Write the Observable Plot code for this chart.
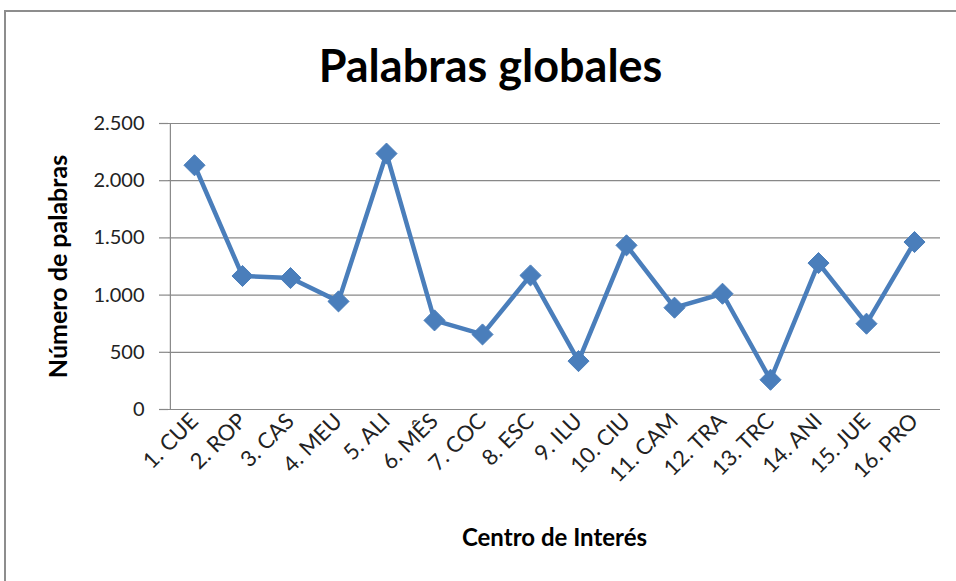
<!DOCTYPE html>
<html>
<head>
<meta charset="utf-8">
<script src="https://cdn.jsdelivr.net/npm/d3@7"></script>
<script src="https://cdn.jsdelivr.net/npm/@observablehq/plot@0.6"></script>
<style>
  html, body { margin: 0; padding: 0; background: #fff; overflow: hidden; }
  #wrap { position: relative; width: 956px; height: 581px; }
  #frame { position: absolute; left: 4px; top: 10px; width: 1000px; height: 1000px; border: 2px solid #8d8d8d; box-sizing: border-box; }
  #chart { position: absolute; left: 0; top: 0; }
</style>
</head>
<body>
<div id="wrap"><div id="frame"></div><div id="chart"></div></div>
<script>
const categories = ["1. CUE","2. ROP","3. CAS","4. MEU","5. ALI","6. MÊS","7. COC","8. ESC","9. ILU","10. CIU","11. CAM","12. TRA","13. TRC","14. ANI","15. JUE","16. PRO"];
const values = [2135, 1167, 1149, 945, 2237, 779, 656, 1172, 423, 1435, 890, 1012, 260, 1280, 750, 1464];
const yTicks = [0, 500, 1000, 1500, 2000, 2500];
const title = "Palabras globales";
const xTitle = "Centro de Interés";
const yTitle = "Número de palabras";

const data = categories.map((c, i) => ({cat: c, val: values[i]}));
const esFmt = d3.formatLocale({decimal: ",", thousands: ".", grouping: [3], currency: ["", "€"]}).format(",");
const font = "Lato, 'Open Sans', sans-serif";
const blue = "#4a7ebb";
const W = 956, ML = 168, MR = 16;
const bw = (W - ML - MR) / categories.length;

const chart = Plot.plot({
  width: W,
  height: 581,
  marginLeft: ML,
  marginRight: MR,
  marginTop: 123,
  marginBottom: 172,
  style: {fontFamily: font, background: "transparent", overflow: "visible"},
  x: {type: "band", domain: categories, padding: 0, label: null},
  y: {domain: [0, 2500], label: null},
  marks: [
    Plot.gridY(yTicks, {stroke: "#888", strokeOpacity: 1, strokeWidth: 1.2}),
    Plot.ruleX([categories[0]], {x: d => d, dx: -bw / 2, y1: 0, y2: 2500, stroke: "#888", strokeWidth: 1.2}),
    Plot.axisY(yTicks, {tickFormat: esFmt, tickSize: 9, stroke: "#888", strokeWidth: 1.2, tickPadding: 15, fontSize: 20, fill: "#222"}),
    Plot.axisX({tickSize: 0, tickRotate: -45, tickPadding: 8, fontSize: 22, fill: "#222", label: null}),
    Plot.line(data, {x: "cat", y: "val", stroke: blue, strokeWidth: 4.5}),
    Plot.dot(data, {x: "cat", y: "val", symbol: "diamond2", r: 9.5, fill: blue, stroke: blue, strokeWidth: 1}),
    Plot.text([title], {frameAnchor: "top-left", dx: 322, dy: -73, text: d => d, fontSize: 45, fontWeight: "bold", fill: "#000", textAnchor: "middle"}),
    Plot.text([xTitle], {frameAnchor: "bottom", dy: 136, text: d => d, fontSize: 24, fontWeight: "bold", fill: "#000", textAnchor: "middle"}),
    Plot.text([yTitle], {frameAnchor: "left", dx: -110, rotate: -90, text: d => d, fontSize: 25, fontWeight: "bold", fill: "#000", textAnchor: "middle"})
  ]
});
document.getElementById("chart").appendChild(chart);
</script>
</body>
</html>
